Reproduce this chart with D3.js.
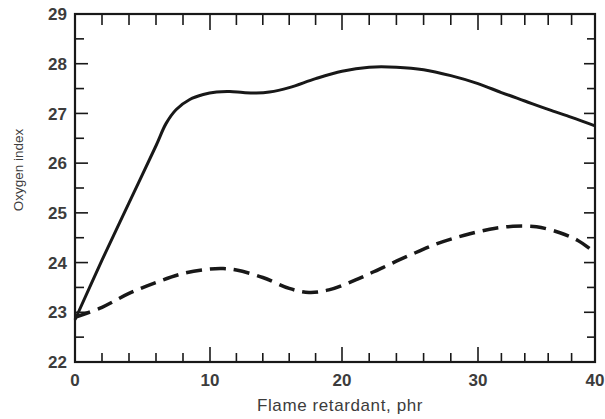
<!DOCTYPE html>
<html>
<head>
<meta charset="utf-8">
<script src="https://cdn.jsdelivr.net/npm/d3@7/dist/d3.min.js"></script>
<style>
  html, body { margin: 0; padding: 0; background: #fff; }
  svg { display: block; }
  text { font-family: "Liberation Sans", Arial, sans-serif; fill: #3c3c3c; }
</style>
</head>
<body>
<svg id="chart" width="605" height="419"></svg>
<script>
// Oxygen index vs. flame retardant loading (phr)
const xTicks = [0, 10, 20, 30, 40];
const yTicks = [22, 23, 24, 25, 26, 27, 28, 29];

// Upper curve (solid)
const solidX = [0, 2, 4, 6, 6.75, 7.5, 8.5, 9.5, 10.5, 11.5, 12.5, 13.5, 14.5, 16, 18, 20, 22, 24, 26, 28, 30, 32, 34, 36, 38, 40];
const solidY = [22.85, 24.05, 25.2, 26.35, 26.8, 27.08, 27.28, 27.38, 27.43, 27.44, 27.42, 27.41, 27.43, 27.52, 27.7, 27.85, 27.93, 27.93, 27.88, 27.76, 27.6, 27.42, 27.25, 27.08, 26.92, 26.75];

// Lower curve (dashed)
const dashX = [0, 2, 4, 6, 8, 10, 11, 12, 14, 16, 17.5, 19, 21, 23, 25, 27, 29, 31, 33, 35, 37, 38.5, 40];
const dashY = [22.9, 23.1, 23.38, 23.6, 23.78, 23.87, 23.88, 23.85, 23.7, 23.48, 23.4, 23.45, 23.65, 23.9, 24.15, 24.38, 24.55, 24.67, 24.73, 24.72, 24.6, 24.45, 24.2];

(function () {
  const svg = d3.select("#chart");
  const mLeft = 75, mRight = 595, mTop = 14, mBottom = 362;

  const x = d3.scaleLinear().domain([0, 10, 20, 30, 40]).range([mLeft, 210, 342, 478, mRight]);
  const y = d3.scaleLinear().domain([22, 29]).range([mBottom, mTop]);

  const ink = "#181818";

  // minor tick values
  const xMinor = d3.range(0, 40.001, 2).filter(v => v % 10 !== 0);
  const yMinor = d3.range(22.5, 29, 1);

  // inward ticks on all four sides of the frame
  const g = svg.append("g").attr("stroke", ink).attr("stroke-width", 1.6);
  const vTicks = (cls, data, y1, y2) => g.selectAll("line." + cls).data(data).join("line").attr("class", cls)
    .attr("x1", d => x(d)).attr("x2", d => x(d)).attr("y1", y1).attr("y2", y2);
  const hTicks = (cls, data, x1, x2) => g.selectAll("line." + cls).data(data).join("line").attr("class", cls)
    .attr("x1", x1).attr("x2", x2).attr("y1", d => y(d)).attr("y2", d => y(d));

  vTicks("b", xTicks, mBottom, mBottom - 15);
  vTicks("bm", xMinor, mBottom, mBottom - 9);
  vTicks("t", xTicks, mTop, mTop + 16);
  vTicks("tm", xMinor, mTop, mTop + 11);
  hTicks("l", yTicks, mLeft, mLeft + 13);
  hTicks("lm", yMinor, mLeft, mLeft + 9);
  hTicks("r", yTicks, mRight, mRight - 11);
  hTicks("rm", yMinor, mRight, mRight - 8);

  // frame
  svg.append("rect")
    .attr("x", mLeft).attr("y", mTop)
    .attr("width", mRight - mLeft).attr("height", mBottom - mTop)
    .attr("fill", "none").attr("stroke", ink).attr("stroke-width", 2.2);

  // tick labels
  svg.append("g").selectAll("text").data(xTicks).join("text")
    .attr("x", d => x(d)).attr("y", 386)
    .attr("text-anchor", "middle")
    .attr("font-size", 17)
    .attr("font-weight", "bold")
    .text(d => d);

  svg.append("g").selectAll("text").data(yTicks).join("text")
    .attr("x", 67).attr("y", d => y(d))
    .attr("dy", "0.36em")
    .attr("text-anchor", "end")
    .attr("font-size", 17)
    .attr("font-weight", "bold")
    .text(d => d);

  // axis titles
  svg.append("text")
    .attr("x", 340).attr("y", 411)
    .attr("text-anchor", "middle")
    .attr("font-size", 17)
    .attr("letter-spacing", 0.6)
    .text("Flame retardant, phr");

  svg.append("text")
    .attr("transform", "translate(23,170) rotate(-90)")
    .attr("text-anchor", "middle")
    .attr("font-size", 13.5)
    .text("Oxygen index");

  // curves
  const line = d3.line()
    .x(d => x(d[0]))
    .y(d => y(d[1]))
    .curve(d3.curveCatmullRom.alpha(0.5));

  svg.append("path")
    .datum(d3.zip(solidX, solidY))
    .attr("d", line)
    .attr("fill", "none")
    .attr("stroke", ink)
    .attr("stroke-width", 3);

  svg.append("path")
    .datum(d3.zip(dashX, dashY))
    .attr("d", line)
    .attr("fill", "none")
    .attr("stroke", ink)
    .attr("stroke-width", 3.5)
    .attr("stroke-dasharray", "16,8");
})();
</script>
</body>
</html>
